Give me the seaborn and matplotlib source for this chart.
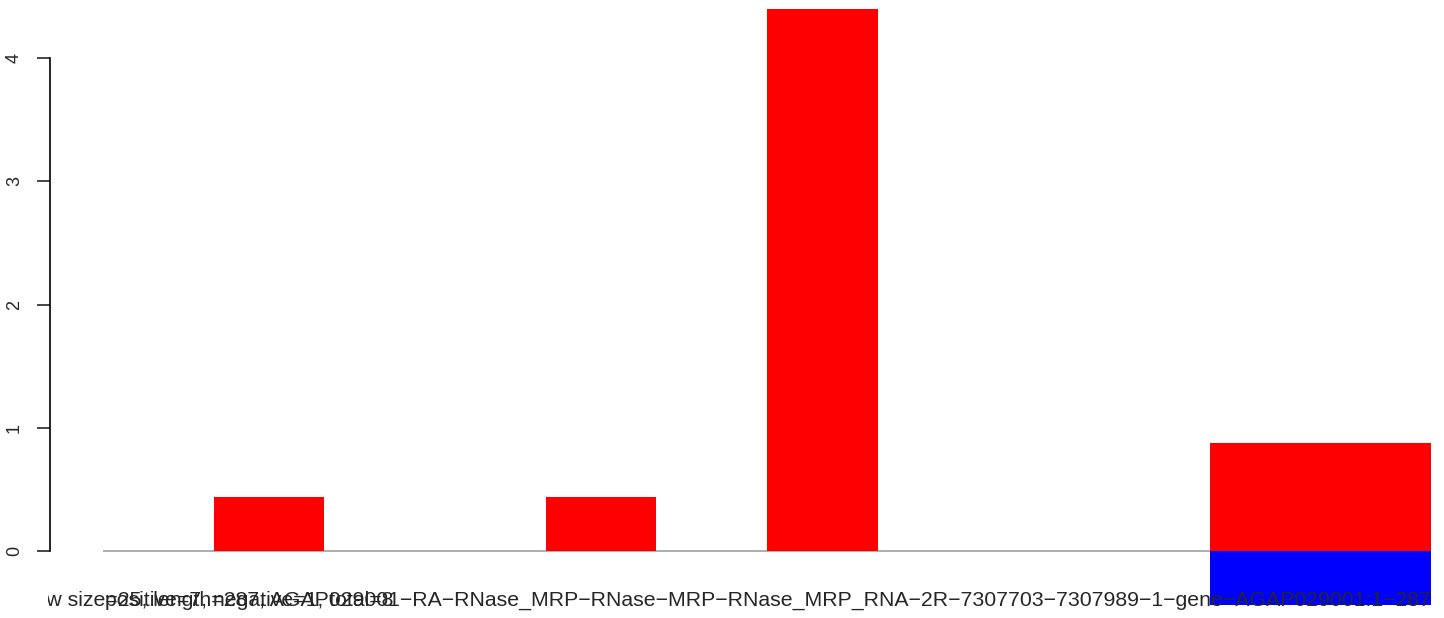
import matplotlib
matplotlib.use("Agg")
import matplotlib.pyplot as plt
from matplotlib.transforms import Bbox, TransformedBbox
import pandas as pd
import seaborn as sns

# bins along the sequence, red = positive, blue = negative
bins = list(range(12))
positive = [0, 0.438, 0, 0, 0.438, 0, 4.6, 0, 0, 0, 0.876, 0.876]
negative = [0, 0, 0, 0, 0, 0, 0, 0, 0, 0, -0.438, -0.438]
yticks = [0, 1, 2, 3, 4]
label_main = "window size=25, length=287, AGAP029001\u2212RA\u2212RNase_MRP\u2212RNase\u2212MRP\u2212RNase_MRP_RNA\u22122R\u22127307703\u22127307989\u22121\u2212gene\u2212AGAP029001:1\u2212287"
label_counts = "positive=7, negative=1, total=8"

df = pd.concat([
    pd.DataFrame({"bin": bins, "value": positive, "strand": "positive"}),
    pd.DataFrame({"bin": bins, "value": negative, "strand": "negative"}),
])

sns.set_style("white")
plt.rcParams['font.family'] = ['Liberation Sans', 'DejaVu Sans']

W, H = 1444, 618
fig = plt.figure(figsize=(W / 100, H / 100), dpi=100)
# axes from x=50 to right edge, y=9 to 606 px
ax = fig.add_axes([50 / W, (H - 606) / H, (W - 50) / W, (606 - 9) / H])

sns.barplot(data=df, x="bin", y="value", hue="strand", order=bins,
            palette={"positive": "#ff0000", "negative": "#0000ff"},
            dodge=False, width=1, errorbar=None, linewidth=0,
            saturation=1, legend=False, ax=ax)

# px per unit: 110.67 in x, 123.25 in y
ax.set_xlim(-0.5 - 53 / 110.67, -0.5 + (W - 103) / 110.67)
ax.set_ylim(-55 / 123.25, 542 / 123.25)
ax.hlines(0, -0.5, 11.5, color="#a0a0a0", lw=1.2, zorder=0)

for s in ["top", "right", "bottom"]:
    ax.spines[s].set_visible(False)
ax.spines["left"].set_bounds(0, 4)
ax.spines["left"].set_linewidth(1.2)
ax.spines["left"].set_color("black")
ax.set_yticks(yticks)
ax.set_yticklabels([str(v) for v in yticks], rotation=90, va="center")
ax.tick_params(axis="y", length=9.5, width=1.2, pad=10, labelsize=13, left=True)
ax.set_xticks([])
ax.set_xlabel("")
ax.set_ylabel("")

clip = TransformedBbox(Bbox([[48 / W, 0], [1, 1]]), fig.transFigure)
ybase = -55 / 123.25
t1 = ax.text(11.5, ybase, label_main, ha="right", va="baseline", fontsize=15.3, zorder=5)
t2 = ax.text(-0.482, ybase, label_counts, ha="left", va="baseline", fontsize=15.3, zorder=5)
for t in (t1, t2):
    t.set_clip_on(True)
    t.set_clip_box(clip)

fig.savefig("out.png", dpi=100)
